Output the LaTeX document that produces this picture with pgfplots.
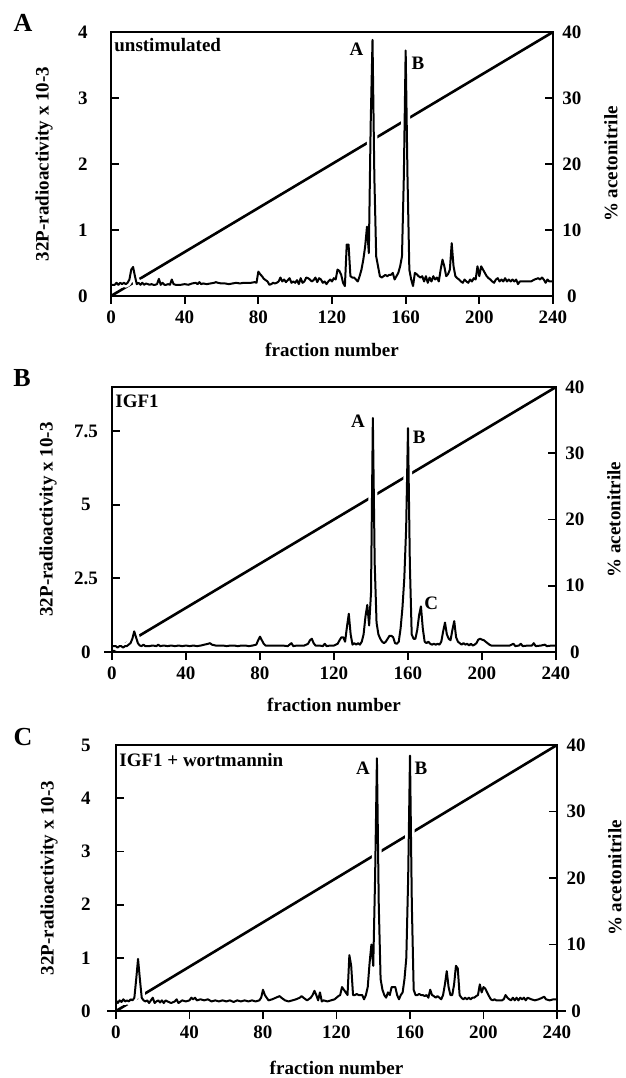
\documentclass[border=0pt]{standalone}
\usepackage{pgfplots}
\pgfplotsset{compat=1.18}
\usepackage{fontspec}
\setmainfont{Liberation Serif}

\pgfplotstableread{
f y
0 0.17
1 0.17
2 0.17
3 0.2
4 0.17
5 0.2
6 0.18
7 0.2
8 0.18
9 0.2
10 0.25
11 0.4
12 0.44
13 0.3
14 0.18
15 0.2
16 0.17
17 0.2
18 0.17
19 0.19
20 0.18
21 0.17
22 0.18
23 0.17
24 0.17
25 0.18
26 0.26
27 0.17
28 0.2
29 0.17
30 0.17
31 0.18
32 0.17
33 0.25
34 0.18
35 0.17
36 0.17
38 0.17
40 0.18
42 0.17
44 0.19
46 0.2
47 0.18
48 0.21
49 0.18
50 0.19
52 0.18
54 0.19
56 0.2
57 0.21
58 0.2
60 0.19
62 0.19
64 0.18
66 0.19
68 0.2
70 0.19
72 0.2
74 0.2
76 0.2
78 0.21
79 0.2
80 0.37
81 0.33
82 0.3
83 0.26
84 0.24
85 0.22
86 0.17
87 0.18
88 0.2
89 0.19
90 0.2
91 0.22
92 0.28
93 0.22
94 0.25
95 0.21
96 0.24
97 0.27
98 0.2
99 0.22
100 0.2
101 0.24
102 0.18
103 0.27
104 0.2
105 0.22
106 0.28
107 0.27
108 0.25
109 0.22
110 0.24
111 0.28
112 0.21
113 0.27
114 0.25
115 0.2
116 0.22
117 0.18
118 0.22
119 0.25
120 0.22
121 0.27
122 0.25
123 0.4
124 0.38
125 0.32
126 0.2
127 0.15
128 0.78
129 0.78
130 0.3
131 0.28
132 0.28
133 0.25
134 0.22
135 0.3
136 0.4
137 0.55
138 0.75
139 1.05
140 0.65
141 2.6
142 3.88
143 1.8
144 0.6
145 0.45
146 0.3
147 0.28
148 0.3
149 0.32
150 0.3
151 0.32
152 0.32
153 0.35
154 0.25
155 0.3
156 0.35
157 0.45
158 0.6
159 1.8
160 3.72
161 1.8
162 0.4
163 0.25
164 0.15
165 0.35
166 0.33
167 0.3
168 0.28
169 0.3
170 0.22
171 0.3
172 0.2
173 0.28
174 0.22
175 0.3
176 0.25
177 0.28
178 0.22
179 0.4
180 0.55
181 0.45
182 0.3
183 0.33
184 0.4
185 0.8
186 0.45
187 0.3
188 0.27
189 0.25
190 0.22
191 0.2
192 0.25
193 0.22
194 0.2
195 0.25
196 0.22
197 0.27
198 0.25
199 0.45
200 0.3
201 0.45
202 0.4
203 0.35
204 0.3
205 0.27
206 0.25
207 0.22
208 0.2
209 0.25
210 0.27
211 0.22
212 0.25
213 0.22
214 0.27
215 0.22
216 0.25
217 0.22
218 0.25
219 0.22
220 0.25
221 0.18
222 0.22
224 0.22
226 0.22
228 0.22
230 0.25
232 0.27
233 0.25
234 0.28
235 0.25
236 0.2
237 0.25
238 0.22
240 0.22
}\dataA

\pgfplotstableread{
f y
0 0.2
2 0.2
3 0.15
4 0.2
5 0.2
6 0.15
7 0.2
8 0.2
9 0.25
10 0.3
11 0.45
12 0.7
13 0.5
14 0.3
15 0.22
16 0.2
17 0.25
18 0.2
20 0.2
22 0.22
24 0.2
25 0.25
26 0.2
28 0.22
30 0.2
32 0.22
34 0.2
36 0.22
38 0.2
40 0.22
42 0.2
44 0.22
46 0.2
48 0.22
50 0.25
52 0.28
53 0.3
54 0.25
56 0.22
58 0.22
60 0.22
62 0.2
64 0.22
66 0.22
68 0.2
70 0.22
72 0.22
74 0.2
76 0.22
78 0.25
79 0.4
80 0.52
81 0.4
82 0.28
83 0.22
85 0.22
88 0.22
90 0.22
92 0.22
95 0.2
96 0.25
97 0.3
98 0.2
100 0.22
104 0.22
106 0.28
107 0.4
108 0.45
109 0.3
110 0.22
112 0.22
114 0.2
115 0.28
116 0.2
118 0.22
120 0.22
122 0.28
123 0.4
124 0.5
125 0.5
126 0.35
127 0.85
128 1.3
129 0.6
130 0.25
131 0.3
132 0.25
133 0.3
134 0.25
135 0.35
136 0.6
137 1.2
138 1.6
139 0.9
140 2.0
141 7.95
142 3.0
143 1.0
144 0.6
145 0.45
146 0.35
147 0.3
148 0.35
149 0.45
150 0.55
151 0.55
152 0.5
153 0.3
154 0.28
155 0.35
156 0.8
157 1.5
158 2.5
159 4.2
160 7.6
161 3.0
162 0.6
163 0.45
164 0.45
165 0.75
166 1.25
167 1.55
168 0.8
169 0.35
170 0.3
171 0.35
172 0.28
173 0.25
174 0.28
175 0.25
176 0.28
177 0.25
178 0.35
179 0.7
180 1.0
181 0.6
182 0.45
183 0.4
184 0.75
185 1.05
186 0.5
187 0.35
188 0.3
189 0.25
190 0.3
191 0.25
192 0.28
193 0.22
194 0.28
195 0.22
196 0.25
197 0.3
198 0.42
199 0.45
200 0.42
201 0.4
202 0.35
203 0.3
204 0.25
205 0.22
210 0.22
215 0.22
217 0.28
218 0.2
220 0.22
221 0.28
222 0.2
225 0.22
227 0.22
228 0.3
229 0.2
232 0.22
234 0.25
235 0.2
238 0.22
240 0.22
}\dataB

\pgfplotstableread{
f y
0 0.2
1 0.15
2 0.2
3 0.17
4 0.22
5 0.18
6 0.2
7 0.18
8 0.22
9 0.2
10 0.25
11 0.6
12 0.98
13 0.6
14 0.25
15 0.2
16 0.18
17 0.2
18 0.15
19 0.2
20 0.25
21 0.15
22 0.18
23 0.2
24 0.16
25 0.2
26 0.15
27 0.2
28 0.18
30 0.15
32 0.18
33 0.22
34 0.15
36 0.2
38 0.18
40 0.2
41 0.25
42 0.22
43 0.25
44 0.2
46 0.22
48 0.2
50 0.22
52 0.18
54 0.2
56 0.18
58 0.2
60 0.18
62 0.2
64 0.17
66 0.2
68 0.18
70 0.2
72 0.18
74 0.2
76 0.18
78 0.2
79 0.25
80 0.4
81 0.3
82 0.25
83 0.2
85 0.22
87 0.25
89 0.28
90 0.25
92 0.2
94 0.18
96 0.2
98 0.22
100 0.25
101 0.28
102 0.25
104 0.2
106 0.25
107 0.3
108 0.38
109 0.3
110 0.2
111 0.35
112 0.18
113 0.2
115 0.18
117 0.2
119 0.22
120 0.25
121 0.28
122 0.3
123 0.45
124 0.4
125 0.35
126 0.3
127 1.05
128 0.85
129 0.3
130 0.3
131 0.32
132 0.3
133 0.3
134 0.3
135 0.22
136 0.3
137 0.45
138 0.9
139 1.25
140 0.85
141 2.5
142 4.75
143 2.0
144 0.6
145 0.4
146 0.3
147 0.25
148 0.35
149 0.3
150 0.45
151 0.45
152 0.45
153 0.3
154 0.22
155 0.3
156 0.35
157 0.6
158 1.0
159 2.5
160 4.8
161 2.0
162 0.4
163 0.3
164 0.3
165 0.32
166 0.3
167 0.3
168 0.28
169 0.3
170 0.25
171 0.4
172 0.3
173 0.28
174 0.25
175 0.28
176 0.25
177 0.22
178 0.3
179 0.5
180 0.75
181 0.45
182 0.3
183 0.3
184 0.5
185 0.85
186 0.8
187 0.3
188 0.25
189 0.22
190 0.25
191 0.22
192 0.25
193 0.22
194 0.25
195 0.25
196 0.28
197 0.3
198 0.5
199 0.35
200 0.45
201 0.42
202 0.35
203 0.28
204 0.22
205 0.2
206 0.22
207 0.2
208 0.2
210 0.2
211 0.22
212 0.3
213 0.25
214 0.22
215 0.2
216 0.25
217 0.2
218 0.25
219 0.2
220 0.25
221 0.22
222 0.25
223 0.2
224 0.25
226 0.22
228 0.2
230 0.22
232 0.25
233 0.27
234 0.22
236 0.2
238 0.22
240 0.22
}\dataC

\pgfplotsset{
  base/.style={scale only axis, clip mode=individual, xmin=0, xmax=240,
    axis line style={line width=1pt},
    every tick/.style={line width=0.9pt, black},
    major tick length=4pt,
    /pgf/number format/assume math mode=true,
  },
  rightax/.style={base, ymin=0, ymax=40, ytick={0,10,20,30,40}, ytick pos=right,
    xtick=\empty,
    yticklabel style={anchor=center, xshift=9.5pt},
    ylabel={\% acetonitrile},
    ylabel style={at={([xshift=29pt]axis description cs:1,0.5)}, anchor=center},
  },
  leftax/.style={base, axis on top, ytick pos=left,
    xtick={0,40,...,240}, xtick pos=bottom, xtick align=outside,
    xticklabel style={anchor=center, yshift=-6.5pt},
    xlabel={fraction number},
    ylabel={32P-radioactivity x 10-3},
  },
  diag/.style={line width=1.3pt, black},
  trace/.style={line width=1pt, black, line join=round, preaction={draw, white, line width=3.6pt}},
}

\begin{document}
\begin{tikzpicture}[font=\fontsize{9.5}{11}\selectfont\bfseries]
\useasboundingbox (0,0) rectangle (313pt,-539pt);

% ---------- Panel A ----------
\begin{axis}[rightax, at={(55.5pt,-16pt)}, anchor=north west, width=221pt, height=132pt]
\addplot[diag] coordinates {(0,0) (240,40)};
\end{axis}
\begin{axis}[leftax, at={(55.5pt,-16pt)}, anchor=north west, width=221pt, height=132pt,
  ymin=0, ymax=4, ytick={0,1,2,3,4},
  yticklabel style={anchor=center, xshift=-14pt},
  xlabel style={at={([yshift=-27pt]axis description cs:0.5,0)}, anchor=center},
  ylabel style={at={([xshift=-33.5pt]axis description cs:0,0.5)}, anchor=center}]
\addplot[trace] table[x=f, y=y] {\dataA};
\node[anchor=west, inner sep=0pt] at ([xshift=1.5pt, yshift=-6.5pt]axis description cs:0,1) {unstimulated};
\node at (axis cs:133.3,3.74) {A};
\node at (axis cs:166.7,3.53) {B};
\end{axis}
\node[font=\fontsize{13}{15}\selectfont\bfseries] at (11.5pt,-11.5pt) {A};

% ---------- Panel B ----------
\begin{axis}[rightax, at={(56pt,-193.5pt)}, anchor=north west, width=222pt, height=132.5pt]
\addplot[diag] coordinates {(0,0) (240,40)};
\end{axis}
\begin{axis}[leftax, at={(56pt,-193.5pt)}, anchor=north west, width=222pt, height=132.5pt,
  ymin=0, ymax=9, ytick={0,2.5,5,7.5}, yticklabels={0,2.5,5,7.5},
  yticklabel style={anchor=center, xshift=-13pt},
  xlabel style={at={([yshift=-26.5pt]axis description cs:0.5,0)}, anchor=center},
  ylabel style={at={([xshift=-32pt]axis description cs:0,0.5)}, anchor=center}]
\addplot[trace] table[x=f, y=y] {\dataB};
\draw[line width=0.9pt] (axis cs:0,0) -- ++(-4pt,0);
\node[anchor=west, inner sep=0pt] at ([xshift=1.5pt, yshift=-7pt]axis description cs:0,1) {IGF1};
\node at (axis cs:133,7.83) {A};
\node at (axis cs:166,7.3) {B};
\node at (axis cs:172.5,1.66) {C};
\end{axis}
\node[font=\fontsize{13}{15}\selectfont\bfseries] at (11pt,-189pt) {B};

% ---------- Panel C ----------
\begin{axis}[rightax, at={(58pt,-372.5pt)}, anchor=north west, width=220.5pt, height=133pt]
\addplot[diag] coordinates {(0,0) (240,40)};
\draw[line width=0.9pt] (axis cs:240,0) -- ++(4.5pt,0);
\end{axis}
\begin{axis}[leftax, at={(58pt,-372.5pt)}, anchor=north west, width=220.5pt, height=133pt,
  ymin=0, ymax=5, ytick={0,1,2,3,4,5},
  yticklabel style={anchor=center, xshift=-15pt},
  xlabel style={at={([yshift=-28.5pt]axis description cs:0.5,0)}, anchor=center},
  ylabel style={at={([xshift=-33.5pt]axis description cs:0,0.5)}, anchor=center}]
\addplot[trace] table[x=f, y=y] {\dataC};
\draw[line width=0.9pt] (axis cs:0,0) -- ++(-4.5pt,0);
\node[anchor=west, inner sep=0pt] at ([xshift=1.5pt, yshift=-7.5pt]axis description cs:0,1) {IGF1 + wortmannin};
\node at (axis cs:134.4,4.57) {A};
\node at (axis cs:166,4.57) {B};
\end{axis}
\node[font=\fontsize{13}{15}\selectfont\bfseries] at (11.5pt,-368.5pt) {C};
\end{tikzpicture}
\end{document}
